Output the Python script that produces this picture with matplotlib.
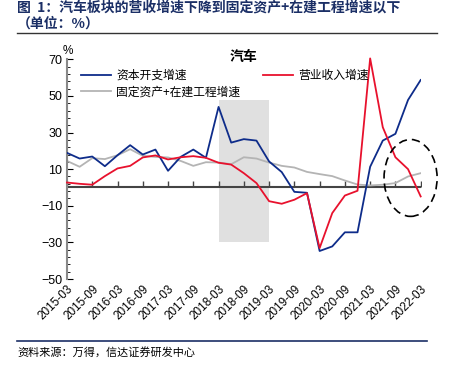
import matplotlib.pyplot as plt
from matplotlib.patches import Ellipse

plt.rcParams['font.family'] = ['Liberation Sans', 'Noto Sans CJK SC', 'DejaVu Sans']

quarters = ['2015-03', '2015-06', '2015-09', '2015-12', '2016-03', '2016-06', '2016-09', '2016-12',
            '2017-03', '2017-06', '2017-09', '2017-12', '2018-03', '2018-06', '2018-09', '2018-12',
            '2019-03', '2019-06', '2019-09', '2019-12', '2020-03', '2020-06', '2020-09', '2020-12',
            '2021-03', '2021-06', '2021-09', '2021-12', '2022-03']
capex = [18.9, 15.8, 16.9, 11.6, 17.6, 23.1, 18.0, 20.7, 9.1, 16.7, 20.7, 16.2, 44.0, 24.5, 26.4,
         25.6, 14.2, 8.4, -2.4, -2.9, -34.7, -32.2, -24.5, -24.5, 11.3, 25.6, 29.3, 47.8, 58.7]
revenue = [2.7, 2.0, 1.5, 6.2, 10.4, 11.8, 16.4, 17.5, 15.3, 16.5, 17.1, 16.2, 13.5, 12.5, 7.8,
           2.4, -7.5, -8.9, -6.7, -3.1, -33.1, -14.0, -4.4, -1.8, 70.5, 32.9, 16.5, 10.0, -4.9]
fixed_assets = [14.5, 11.3, 16.0, 15.5, 17.6, 20.9, 17.3, 16.7, 16.4, 14.5, 11.8, 13.8, 13.6, 12.7,
                16.5, 15.8, 13.6, 11.8, 10.9, 8.5, 7.3, 6.2, 3.8, 1.6, 1.1, 1.5, 2.4, 6.0, 7.8]

x = list(range(len(quarters)))
navy = '#1B2F66'

fig = plt.figure(figsize=(4.52, 3.73), dpi=100)
ax = fig.add_axes([0.1482, 0.252, 0.7825, 0.589])

# 2018-03 ~ 2019-03 阴影
ax.fill_between([12, 16], -30, 48, color='#E0E0E0', lw=0, zorder=0)

l1, = ax.plot(x, capex, color='#0E2C8A', lw=1.3, label='资本开支增速', zorder=3)
l3, = ax.plot(x, fixed_assets, color='#B4B4B4', lw=1.3, label='固定资产+在建工程增速', zorder=2)
l2, = ax.plot(x, revenue, color='#E8112D', lw=1.3, label='营业收入增速', zorder=4, clip_on=False)

ax.add_patch(Ellipse((27.2, 5.2), 4.2, 42, fill=False, ls=(0, (5, 3)), lw=1.2,
                     color='black', zorder=5, clip_on=False))

ax.set_xlim(0, 28)
ax.set_ylim(-50, 70)
ax.set_yticks(range(-50, 71, 20))
ax.set_yticks(range(-50, 71, 4), minor=True)
ax.tick_params(axis='y', which='both', direction='in', labelsize=9, colors='black')
ax.tick_params(axis='y', which='major', length=4)
ax.tick_params(axis='y', which='minor', length=2.5)
for s in ['top', 'right', 'bottom']:
    ax.spines[s].set_visible(False)
ax.spines['left'].set_color('#888888')
ax.spines['left'].set_linewidth(1.5)

# x 轴：零线 + 上方刻度，标签在底部
ax.axhline(0, color='#444444', lw=1.5, zorder=1)
ax.set_xticks(x[::2])
ax.set_xticklabels(quarters[::2], rotation=45, ha='right', va='top', rotation_mode='anchor', fontsize=8.5)
ax.tick_params(axis='x', length=0, pad=3)
ax.plot(x[::2], [0] * len(x[::2]), ls='none', marker=2, ms=4, mew=1, color='#444444', zorder=1)

ax.text(0.002, 1.01, '%', transform=ax.transAxes, fontsize=8.5, ha='center', va='bottom')
fig.text(243 / 452, 1 - 57 / 373, '汽车', fontsize=10, fontweight='bold', ha='center', va='center',
         family=['Noto Sans CJK SC'])

fig.legend(handles=[l1, l3], loc='upper left', bbox_to_anchor=(76 / 452, 1 - 64 / 373),
           frameon=False, handlelength=2.6, handletextpad=0.4,
           labelspacing=0.3, borderaxespad=0, prop={'family': 'Noto Sans CJK SC', 'size': 8.5})
fig.legend(handles=[l2], loc='upper left', bbox_to_anchor=(258 / 452, 1 - 64 / 373),
           frameon=False, handlelength=2.6, handletextpad=0.4, borderaxespad=0,
           prop={'family': 'Noto Sans CJK SC', 'size': 8.5})

fig.text(17 / 452, 1 - 8 / 373, '图  1：汽车板块的营收增速下降到固定资产+在建工程增速以下',
         fontsize=10, fontweight='bold', color=navy, ha='left', va='center', family=['Noto Sans CJK SC'])
fig.text(17 / 452, 1 - 24 / 373, '（单位：%）', fontsize=10, fontweight='bold', color=navy,
         ha='left', va='center', family=['Noto Sans CJK SC'])
fig.add_artist(plt.Line2D([17 / 452, 437 / 452], [1 - 33 / 373] * 2, color='#333333', lw=1))
fig.add_artist(plt.Line2D([17 / 452, 427 / 452], [1 - 341 / 373] * 2, color=navy, lw=1.2))
fig.text(17 / 452, 1 - 352 / 373, '资料来源：万得，信达证券研发中心', fontsize=8, style='italic',
         ha='left', va='center', family=['Noto Sans CJK SC'])

fig.savefig('out.png', dpi=100)
